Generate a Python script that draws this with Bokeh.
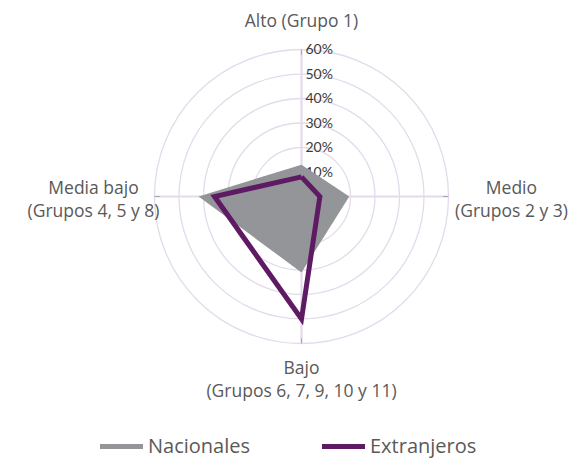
import numpy as np
from bokeh.plotting import figure
from bokeh.models import Range1d, Legend, LegendItem
from bokeh.core.properties import value
from bokeh.embed import file_html
from bokeh.resources import INLINE

# ---- data ----
categories = ["Alto (Grupo 1)", "Medio\n(Grupos 2 y 3)",
              "Bajo\n(Grupos 6, 7, 9, 10 y 11)", "Media bajo\n(Grupos 4, 5 y 8)"]
nacionales = [13, 19.5, 31, 42]
extranjeros = [8, 7.5, 50, 35.5]
ticks = [10, 20, 30, 40, 50, 60]
tick_labels = ["10%", "20%", "30%", "40%", "50%", "60%"]

# ---- layout ----
W, H = 572, 459
cx, cy = 301, 196          # centre in figure pixels
scale = 2.45               # px per percent
FONT = "Open Sans"
rmax = ticks[-1]
angles = np.deg2rad([90, 0, -90, 180])

p = figure(width=W, height=H, output_backend="svg", toolbar_location=None,
           x_range=Range1d(-cx / scale, (W - cx) / scale),
           y_range=Range1d(-(H - cy) / scale, cy / scale),
           x_axis_location=None, y_axis_location=None, min_border=0)
p.grid.visible = False
p.outline_line_color = None
p.background_fill_color = "white"

ring_col = "#E5DAEC"
# rings
p.circle(x=[0] * len(ticks), y=[0] * len(ticks), radius=ticks,
         fill_color=None, line_color=ring_col, line_width=1.3)
# spokes
p.segment(x0=[0] * 4, y0=[0] * 4, x1=rmax * np.cos(angles), y1=rmax * np.sin(angles),
          line_color=ring_col, line_width=2.2)
# small end marks of spokes
inner = rmax - 2.2
p.segment(x0=inner * np.cos(angles), y0=inner * np.sin(angles),
          x1=rmax * np.cos(angles), y1=rmax * np.sin(angles),
          line_color="#A8A8A8", line_width=1)
# tick labels
p.text(x=[0] * len(ticks), y=ticks, text=tick_labels, x_offset=4, y_offset=-1,
       text_align="left", text_baseline="middle", text_font=value("Lato"),
       text_font_size="14px", text_color="#3a3a3a")

# series
nx = np.array(nacionales) * np.cos(angles)
ny = np.array(nacionales) * np.sin(angles)
p.patch(x=nx, y=ny, fill_color="#939598", line_color=None)

ex = np.array(extranjeros) * np.cos(angles)
ey = np.array(extranjeros) * np.sin(angles)
p.line(x=np.append(ex, ex[0]), y=np.append(ey, ey[0]), line_color="#5E1A62",
       line_width=5, line_join="miter")

# category labels
lab_x = [0, 85.7, 0, -84.9]
lab_y = [72.2, -0.8, -74.3, -0.8]
p.text(x=lab_x, y=lab_y, text=categories, text_align="center", text_baseline="middle",
       text_font=value(FONT), text_font_size="17.5px", text_color="#595959",
       text_line_height=0.95)

# legend (single-point helper lines: invisible in the plot, used for legend swatches)
r_nac = p.line(x=nx[:1], y=ny[:1], line_color="#939598", line_width=5, line_cap="round")
r_ext = p.line(x=ex[:1], y=ey[:1], line_color="#5E1A62", line_width=5, line_cap="round")

for rend, lab, loc in [(r_nac, "Nacionales", (100, 0)), (r_ext, "Extranjeros", (322, 0))]:
    lg = Legend(items=[LegendItem(label=lab, renderers=[rend])], location=loc,
                glyph_width=43, glyph_height=18, label_height=18, label_standoff=5,
                padding=0, margin=0, border_line_color=None, background_fill_alpha=0,
                label_text_font=FONT, label_text_font_size="20px",
                label_text_color="#595959")
    p.add_layout(lg)

open("out.html", "w").write(file_html(p, INLINE))
